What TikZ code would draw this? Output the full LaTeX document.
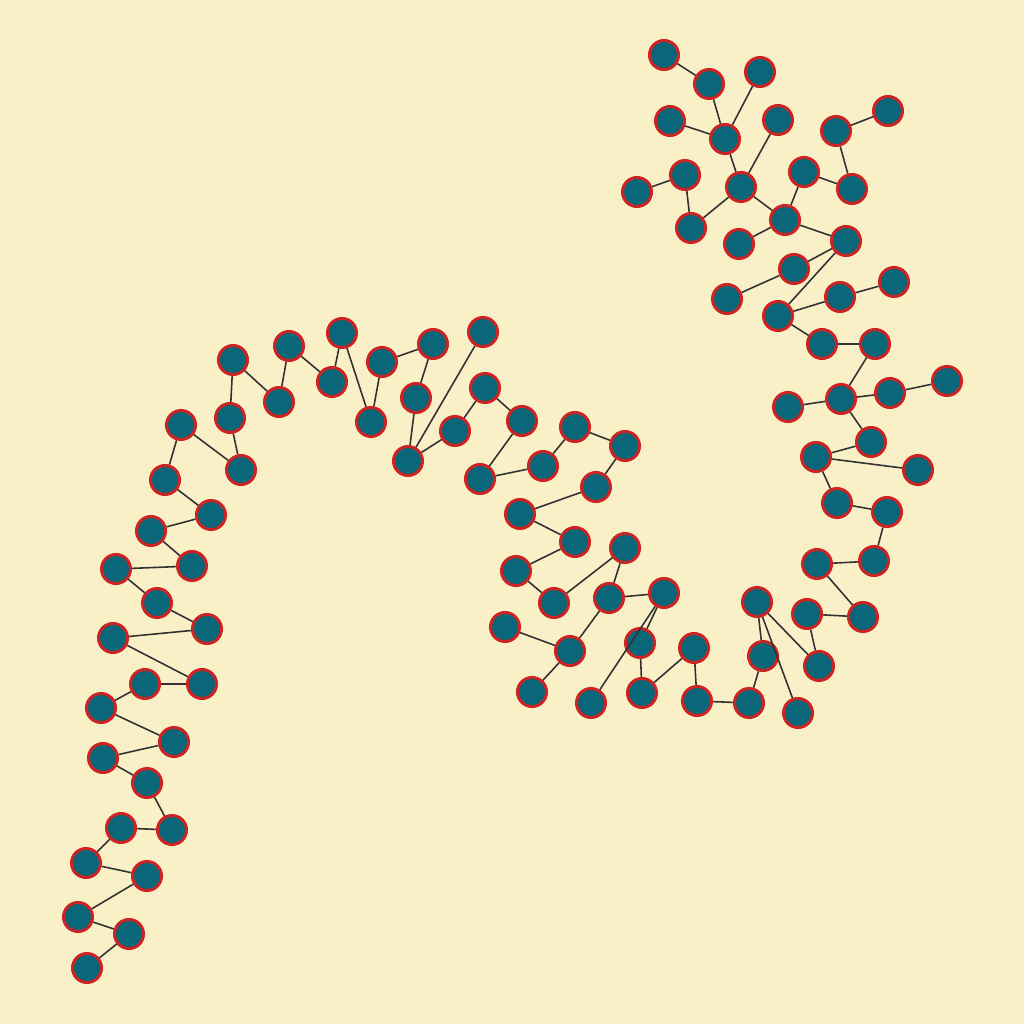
\documentclass[tikz,border=0pt]{standalone}
\definecolor{bgc}{RGB}{250,240,200}
\definecolor{fillc}{RGB}{10,102,121}
\definecolor{bordc}{RGB}{205,35,35}
\definecolor{edgec}{RGB}{50,50,50}
\begin{document}
\begin{tikzpicture}[x=0.01cm,y=-0.01cm,
  v/.style={circle,fill=fillc,draw=bordc,line width=0.85pt,minimum size=0.29cm,inner sep=0pt},
  e/.style={draw=edgec,line width=0.45pt}]
\fill[bgc] (0,0) rectangle (1024,1024);
\useasboundingbox (0,0) rectangle (1024,1024);
% top right
\node[v] (t1) at (664,55) {};
\node[v] (t2) at (709,84) {};
\node[v] (t3) at (760,72) {};
\node[v] (t4) at (670,121) {};
\node[v] (t5) at (725,139) {};
\node[v] (t6) at (778,120) {};
\node[v] (t7) at (836,131) {};
\node[v] (t8) at (888,111) {};
\node[v] (t9) at (685,175) {};
\node[v] (t10) at (637,192) {};
\node[v] (t11) at (741,187) {};
\node[v] (t12) at (804,172) {};
\node[v] (t13) at (852,189) {};
\node[v] (t14) at (691,228) {};
\node[v] (t15) at (785,220) {};
\node[v] (t16) at (739,244) {};
\node[v] (t17) at (846,241) {};
\node[v] (t18) at (794,269) {};
\node[v] (t19) at (727,299) {};
\node[v] (t20) at (840,297) {};
\node[v] (t21) at (894,282) {};
\node[v] (t22) at (778,316) {};
\node[v] (t23) at (822,344) {};
\node[v] (t24) at (875,344) {};
% right
\node[v] (r1) at (841,399) {};
\node[v] (r2) at (788,407) {};
\node[v] (r3) at (890,393) {};
\node[v] (r4) at (947,381) {};
\node[v] (r5) at (871,442) {};
\node[v] (r6) at (816,457) {};
\node[v] (r7) at (918,470) {};
\node[v] (r8) at (837,503) {};
\node[v] (r9) at (887,512) {};
\node[v] (r10) at (874,561) {};
\node[v] (r11) at (817,564) {};
\node[v] (r12) at (757,602) {};
\node[v] (r13) at (807,614) {};
\node[v] (r14) at (863,617) {};
\node[v] (r15) at (763,656) {};
\node[v] (r16) at (819,666) {};
\node[v] (r17) at (749,703) {};
\node[v] (r18) at (798,713) {};
% bottom middle
\node[v] (b1) at (520,514) {};
\node[v] (b2) at (575,542) {};
\node[v] (b3) at (625,548) {};
\node[v] (b4) at (516,571) {};
\node[v] (b5) at (554,603) {};
\node[v] (b6) at (609,598) {};
\node[v] (b7) at (664,593) {};
\node[v] (b8) at (505,627) {};
\node[v] (b9) at (570,651) {};
\node[v] (b10) at (640,643) {};
\node[v] (b11) at (694,648) {};
\node[v] (b12) at (532,692) {};
\node[v] (b13) at (591,703) {};
\node[v] (b14) at (642,693) {};
\node[v] (b15) at (697,701) {};
% middle
\node[v] (m1) at (382,362) {};
\node[v] (m2) at (433,344) {};
\node[v] (m3) at (483,332) {};
\node[v] (m4) at (416,398) {};
\node[v] (m5) at (485,388) {};
\node[v] (m6) at (455,431) {};
\node[v] (m7) at (522,421) {};
\node[v] (m8) at (408,461) {};
\node[v] (m9) at (480,479) {};
\node[v] (m10) at (543,466) {};
\node[v] (m11) at (575,427) {};
\node[v] (m12) at (625,446) {};
\node[v] (m13) at (596,487) {};
% left
\node[v] (l1) at (233,360) {};
\node[v] (l2) at (289,346) {};
\node[v] (l3) at (342,333) {};
\node[v] (l4) at (332,382) {};
\node[v] (l5) at (279,402) {};
\node[v] (l6) at (230,418) {};
\node[v] (l7) at (371,422) {};
\node[v] (l8) at (181,425) {};
\node[v] (l9) at (241,470) {};
\node[v] (l10) at (165,480) {};
\node[v] (l11) at (211,515) {};
\node[v] (l12) at (151,531) {};
\node[v] (l13) at (192,566) {};
\node[v] (l14) at (116,569) {};
\node[v] (l15) at (157,603) {};
\node[v] (l16) at (207,629) {};
\node[v] (l17) at (113,638) {};
\node[v] (l18) at (145,684) {};
\node[v] (l19) at (202,684) {};
\node[v] (l20) at (101,708) {};
\node[v] (l21) at (174,742) {};
\node[v] (l22) at (103,758) {};
\node[v] (l23) at (147,783) {};
\node[v] (l24) at (121,828) {};
\node[v] (l25) at (172,830) {};
\node[v] (l26) at (86,863) {};
\node[v] (l27) at (147,876) {};
\node[v] (l28) at (78,917) {};
\node[v] (l29) at (129,934) {};
\node[v] (l30) at (87,968) {};
% edges
\foreach \a/\b in {t1/t2,t2/t5,t3/t5,t4/t5,t5/t11,t6/t11,t11/t14,t11/t15,t9/t10,t9/t14,
  t12/t15,t12/t13,t13/t7,t7/t8,t15/t16,t15/t17,t17/t18,t17/t22,t18/t19,t22/t20,t20/t21,
  t22/t23,t23/t24,
  t24/r1,r2/r1,r1/r3,r3/r4,r1/r5,r5/r6,r6/r7,r6/r8,r8/r9,r9/r10,r10/r11,r11/r14,r13/r14,
  r13/r16,r12/r16,r12/r15,r12/r18,r15/r17,r17/b15,
  b11/b15,b11/b14,b10/b14,b7/b10,b7/b13,b6/b7,b3/b6,b3/b5,b4/b5,b2/b4,b1/b2,b6/b9,b8/b9,b9/b12,
  b1/m13,m13/m12,m12/m11,m11/m10,m10/m9,m9/m7,m7/m5,m5/m6,m6/m8,m3/m8,m4/m8,m2/m4,m1/m2,l7/m1,
  l7/l3,l3/l4,l4/l2,l2/l5,l5/l1,l1/l6,l6/l9,l9/l8,l8/l10,l10/l11,l11/l12,l12/l13,l13/l14,
  l14/l15,l15/l16,l16/l17,l17/l19,l19/l18,l18/l20,l20/l21,l21/l22,l22/l23,l23/l25,l25/l24,
  l24/l26,l26/l27,l27/l28,l28/l29,l29/l30}
  \draw[e] (\a) -- (\b);
\end{tikzpicture}
\end{document}
